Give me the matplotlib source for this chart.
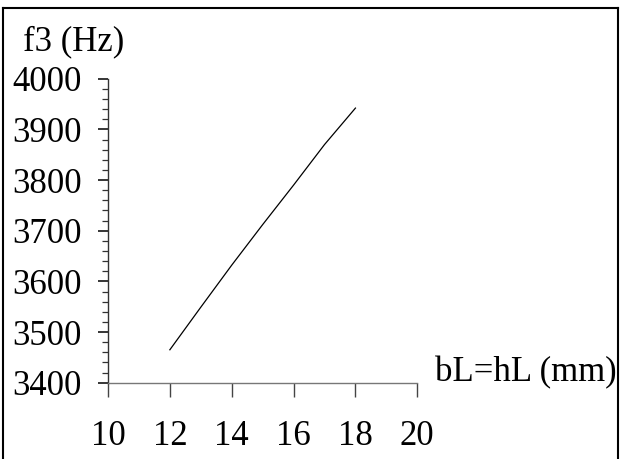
import matplotlib
matplotlib.use("Agg")
import matplotlib.pyplot as plt
from matplotlib.lines import Line2D
from matplotlib.ticker import MultipleLocator

# Third natural frequency versus side length
side_mm = [12, 13, 14, 15, 16, 17, 18]
f3_hz = [3465, 3549, 3632, 3712, 3790, 3870, 3942]

x_ticks = [10, 12, 14, 16, 18, 20]
y_ticks = [3400, 3500, 3600, 3700, 3800, 3900, 4000]

plt.rcParams["font.family"] = ["Liberation Serif", "DejaVu Serif"]
FS = 25

W, H = 623, 459
fig = plt.figure(figsize=(W / 100, H / 100), dpi=100)
ax = fig.add_axes([108 / W, 1 - 382.7 / H, (417.3 - 108) / W, (382.7 - 78.7) / H])

ax.plot(side_mm, f3_hz, color="black", lw=0.9)

ax.set_xlim(10, 20)
ax.set_ylim(3400, 4000)
ax.set_xticks(x_ticks)
ax.set_yticks(y_ticks)
ax.yaxis.set_minor_locator(MultipleLocator(20))

for s in ("top", "right"):
    ax.spines[s].set_visible(False)
ax.spines["left"].set_color("#333333")
ax.spines["bottom"].set_color("#777777")
ax.spines["left"].set_linewidth(1.0)
ax.spines["bottom"].set_linewidth(1.0)

ax.tick_params(axis="x", direction="out", length=10, width=1, color="#444444",
               labelsize=FS, pad=16.5)
ax.tick_params(axis="y", which="major", direction="out", length=7, width=1.1,
               color="black", labelsize=FS, pad=12)
ax.tick_params(axis="y", which="minor", direction="out", length=4.5, width=0.9,
               color="#333333")

# Axis titles
fig.text(23 / W, 1 - 50 / H, "f3 (Hz)", fontsize=FS, ha="left", va="baseline")
fig.text(435 / W, 1 - 381.5 / H, "bL=hL (mm)", fontsize=FS, ha="left", va="baseline")

# Frame around the figure
fx0, fx1 = 3 / W, 618 / W
fy_top = 1 - 8 / H
for xs, ys in (([fx0, fx0], [-0.01, fy_top]),
               ([fx0, fx1], [fy_top, fy_top]),
               ([fx1, fx1], [fy_top, -0.01])):
    fig.add_artist(Line2D(xs, ys, transform=fig.transFigure, color="black", lw=1.5))

fig.savefig("out.png", dpi=100)
